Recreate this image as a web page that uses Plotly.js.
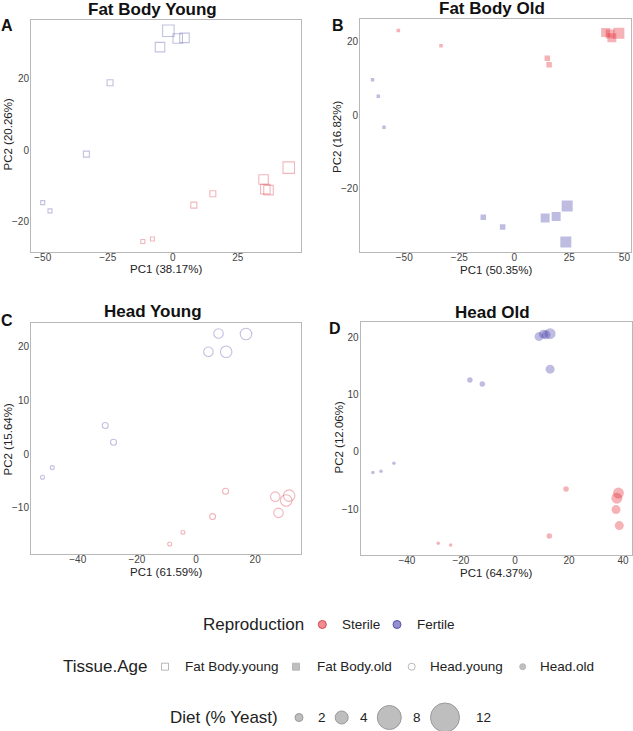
<!DOCTYPE html>
<html>
<head>
<meta charset="utf-8">
<script src="https://cdn.plot.ly/plotly-3.0.1.min.js"></script>
<style>html,body{margin:0;padding:0;background:#fff;}#chart{width:633px;height:731px;}</style>
</head>
<body>
<div id="chart"></div>
<script>
// ---------------- DATA ----------------
// Panel A: Fat Body Young
const fbyPC1   = [-1.7, 1.9, 4.5, -4.9, -24.1, -33.2, -50.0, -47.2, 44.6, 34.9, 35.6, 36.8, 15.4, 8.1, -7.8, -11.5];
const fbyPC2   = [33.5, 31.3, 31.5, 28.9, 18.9, -1.1, -14.7, -17.0, -4.9, -8.2, -10.9, -11.2, -12.2, -15.4, -24.9, -25.6];
const fbyRepro = ["Fertile","Fertile","Fertile","Fertile","Fertile","Fertile","Fertile","Fertile","Sterile","Sterile","Sterile","Sterile","Sterile","Sterile","Sterile","Sterile"];
const fbyDiet  = [12, 8, 8, 8, 4, 4, 2, 2, 12, 8, 8, 8, 4, 4, 2, 2];

// Panel B: Fat Body Old
const fboPC1   = [-52.7, -33.3, 15.0, 15.8, 41.5, 44.3, 43.5, 47.5, -64.4, -61.8, -59.2, -14.1, -5.3, 14.0, 19.0, 24.0, 23.4];
const fboPC2   = [23.0, 18.8, 15.4, 13.7, 22.4, 21.0, 22.0, 22.2, 9.6, 5.1, -3.3, -27.8, -30.4, -28.0, -27.6, -24.7, -34.5];
const fboRepro = ["Sterile","Sterile","Sterile","Sterile","Sterile","Sterile","Sterile","Sterile","Fertile","Fertile","Fertile","Fertile","Fertile","Fertile","Fertile","Fertile","Fertile"];
const fboDiet  = [2, 2, 4, 4, 8, 8, 8, 12, 2, 2, 2, 4, 4, 8, 8, 12, 12];

// Panel C: Head Young
const hyPC1   = [16.9, 7.6, 4.2, 10.2, -30.7, -27.9, -48.6, -51.9, 31.5, 30.5, 26.8, 27.9, 10.0, 5.6, -4.4, -8.9];
const hyPC2   = [22.3, 22.4, 19.0, 19.0, 5.3, 2.2, -2.5, -4.3, -7.7, -8.6, -7.9, -10.9, -6.9, -11.6, -14.5, -16.7];
const hyRepro = ["Fertile","Fertile","Fertile","Fertile","Fertile","Fertile","Fertile","Fertile","Sterile","Sterile","Sterile","Sterile","Sterile","Sterile","Sterile","Sterile"];
const hyDiet  = [12, 8, 8, 12, 4, 4, 2, 2, 12, 12, 8, 8, 4, 4, 2, 2];

// Panel D: Head Old
const hoPC1   = [13.0, 10.5, 8.9, 11.5, 13.0, -16.7, -12.1, -44.8, -49.6, -52.6, 38.3, 37.7, 37.4, 38.6, 18.9, 12.7, -28.4, -23.8];
const hoPC2   = [20.7, 20.6, 20.2, 20.5, 14.5, 12.6, 11.9, -2.0, -3.4, -3.6, -7.2, -8.1, -10.1, -12.9, -6.5, -14.7, -16.0, -16.3];
const hoRepro = ["Fertile","Fertile","Fertile","Fertile","Fertile","Fertile","Fertile","Fertile","Fertile","Fertile","Sterile","Sterile","Sterile","Sterile","Sterile","Sterile","Sterile","Sterile"];
const hoDiet  = [12, 8, 8, 8, 8, 4, 4, 2, 2, 2, 12, 12, 8, 8, 4, 4, 2, 2];

const panelTitles = ["Fat Body Young", "Fat Body Old", "Head Young", "Head Old"];
const panelLetters = ["A", "B", "C", "D"];
const pc1Labels = ["PC1 (38.17%)", "PC1 (50.35%)", "PC1 (61.59%)", "PC1 (64.37%)"];
const pc2Labels = ["PC2 (20.26%)", "PC2 (16.82%)", "PC2 (15.64%)", "PC2 (12.06%)"];
const reproLevels = ["Sterile", "Fertile"];
const tissueLevels = ["Fat Body.young", "Fat Body.old", "Head.young", "Head.old"];
const dietLevels = [2, 4, 8, 12];

// ---------------- STYLE ----------------
const W = 633, H = 731;
const FONT = "Liberation Sans, Arial, Helvetica, sans-serif";
const fillCol = {Sterile: "rgba(226,36,48,0.5)", Fertile: "rgba(72,62,168,0.5)"};
const lineCol = {Sterile: "rgba(222,80,92,0.6)", Fertile: "rgba(110,104,180,0.6)"};
const sizeMap = {2: 3.5, 4: 5.5, 8: 9, 12: 11};

const px = x => x / W;
const py = y => 1 - y / H;

const panels = [
  {pc1: fbyPC1, pc2: fbyPC2, repro: fbyRepro, diet: fbyDiet, symbol: "square-open", open: true, xa: "x", ya: "y"},
  {pc1: fboPC1, pc2: fboPC2, repro: fboRepro, diet: fboDiet, symbol: "square", open: false, xa: "x2", ya: "y2"},
  {pc1: hyPC1, pc2: hyPC2, repro: hyRepro, diet: hyDiet, symbol: "circle-open", open: true, xa: "x3", ya: "y3"},
  {pc1: hoPC1, pc2: hoPC2, repro: hoRepro, diet: hoDiet, symbol: "circle", open: false, xa: "x4", ya: "y4"}
];

const traces = [];
panels.forEach(p => {
  reproLevels.forEach(r => {
    const idx = p.repro.map((v, i) => v === r ? i : -1).filter(i => i >= 0);
    traces.push({
      type: "scatter", mode: "markers", xaxis: p.xa, yaxis: p.ya, showlegend: false, hoverinfo: "skip",
      x: idx.map(i => p.pc1[i]), y: idx.map(i => p.pc2[i]),
      marker: {
        symbol: p.symbol,
        size: idx.map(i => sizeMap[p.diet[i]] + (p.open ? 0.5 : 0)),
        color: p.open ? lineCol[r] : fillCol[r],
        line: p.open ? {width: 1.1, color: lineCol[r]} : {width: 0}
      }
    });
  });
});

// ---------------- LEGEND (drawn on a hidden pixel-coordinate axis) ----------------
const legRow1Y = 624.5, legRow2Y = 666.7, legRow3Y = 717.5;
traces.push({
  type: "scatter", mode: "markers", xaxis: "x5", yaxis: "y5", showlegend: false, hoverinfo: "skip",
  x: [322.3, 397], y: [legRow1Y, legRow1Y],
  marker: {symbol: "circle", size: 8, color: ["rgba(240,120,128,0.85)", "rgba(130,122,200,0.85)"],
           line: {width: 1, color: ["rgb(210,70,80)", "rgb(90,82,165)"]}}
});
traces.push({
  type: "scatter", mode: "markers", xaxis: "x5", yaxis: "y5", showlegend: false, hoverinfo: "skip",
  x: [165, 296, 411.7, 522.7], y: [legRow2Y, legRow2Y, legRow2Y, legRow2Y],
  marker: {symbol: ["square-open", "square", "circle-open", "circle"], size: [7, 7, 7, 6],
           color: ["#9a9a9a", "#a5a5a5", "#9a9a9a", "#a5a5a5"], line: {width: 1, color: "#9a9a9a"}}
});
const dietX = [299, 341.7, 389.3, 445];
traces.push({
  type: "scatter", mode: "markers", xaxis: "x5", yaxis: "y5", showlegend: false, hoverinfo: "skip",
  x: dietX, y: dietX.map(() => legRow3Y),
  marker: {symbol: "circle", size: [8, 13, 24, 29], color: "#a3a3a3", line: {width: 1, color: "#6f6f6f"}}
});

// ---------------- LAYOUT ----------------
const axBase = {
  showline: true, mirror: true, linecolor: "#b8b8b8", linewidth: 1,
  showgrid: false, zeroline: false, ticks: "",
  tickfont: {family: FONT, size: 10, color: "#444"}, fixedrange: true
};
const xBase = Object.assign({}, axBase, {ticklabelstandoff: -4});
const yBase = Object.assign({}, axBase, {ticklabelstandoff: -1});
const layout = {
  width: W, height: H, margin: {l: 0, r: 0, t: 0, b: 0},
  paper_bgcolor: "#fff", plot_bgcolor: "#fff", showlegend: false,
  font: {family: FONT},
  xaxis:  Object.assign({}, xBase, {domain: [px(31), px(301)], range: [-54.5, 49.3], tickvals: [-50, -25, 0, 25], anchor: "y"}),
  yaxis:  Object.assign({}, yBase, {domain: [py(251.5), py(20)], range: [-28.4, 36.5], tickvals: [-20, 0, 20], anchor: "x"}),
  xaxis2: Object.assign({}, xBase, {domain: [px(360), px(631)], range: [-70.1, 53], tickvals: [-50, -25, 0, 25, 50], anchor: "y2"}),
  yaxis2: Object.assign({}, yBase, {domain: [py(252.3), py(19)], range: [-37.3, 26.1], tickvals: [-20, 0, 20], anchor: "x2"}),
  xaxis3: Object.assign({}, xBase, {domain: [px(31), px(301)], range: [-55.8, 35.5], tickvals: [-40, -20, 0, 20], anchor: "y3"}),
  yaxis3: Object.assign({}, yBase, {domain: [py(554.3), py(322.7)], range: [-18.6, 24.4], tickvals: [-10, 0, 10, 20], anchor: "x3"}),
  xaxis4: Object.assign({}, xBase, {domain: [px(360.7), px(631.7)], range: [-57.1, 43.2], tickvals: [-40, -20, 0, 20, 40], anchor: "y4"}),
  yaxis4: Object.assign({}, yBase, {domain: [py(555.3), py(322.3)], range: [-18.1, 22.7], tickvals: [-10, 0, 10, 20], anchor: "x4"}),
  xaxis5: {domain: [0, 1], range: [0, W], visible: false, fixedrange: true, anchor: "y5"},
  yaxis5: {domain: [0, py(610)], range: [H, 610], visible: false, fixedrange: true, anchor: "x5"},
  annotations: []
};

const titlePos = [[152.5, 10], [492, 8], [152.5, 311], [492.5, 312]];
const letterPos = [[7, 26], [338, 25], [7.5, 320], [335, 328]];
const xTitlePos = [[165.7, 269], [496, 269.5], [165.7, 571.5], [496, 573]];
const yTitlePos = [[7.5, 135], [337, 137], [7.5, 440], [338.5, 437]];
for (let k = 0; k < 4; k++) {
  layout.annotations.push({xref: "paper", yref: "paper", x: px(titlePos[k][0]), y: py(titlePos[k][1]), xanchor: "center", yanchor: "middle",
    text: "<b>" + panelTitles[k] + "</b>", showarrow: false, font: {family: FONT, size: 17, color: "#111"}});
  layout.annotations.push({xref: "paper", yref: "paper", x: px(letterPos[k][0]), y: py(letterPos[k][1]), xanchor: "center", yanchor: "middle",
    text: "<b>" + panelLetters[k] + "</b>", showarrow: false, font: {family: FONT, size: 16, color: "#111"}});
  layout.annotations.push({xref: "paper", yref: "paper", x: px(xTitlePos[k][0]), y: py(xTitlePos[k][1]), xanchor: "center", yanchor: "middle",
    text: pc1Labels[k], showarrow: false, font: {family: FONT, size: 11.5, color: "#222"}});
  layout.annotations.push({xref: "paper", yref: "paper", x: px(yTitlePos[k][0]), y: py(yTitlePos[k][1]), xanchor: "center", yanchor: "middle",
    text: pc2Labels[k], textangle: -90, showarrow: false, font: {family: FONT, size: 11.5, color: "#222"}});
}

function legText(x, y, t, size) {
  layout.annotations.push({xref: "x5", yref: "y5", x: x, y: y, xanchor: "left", yanchor: "middle",
    text: t, showarrow: false, font: {family: FONT, size: size, color: "#222"}});
}
legText(200.5, legRow1Y, "Reproduction", 17);
legText(339.5, legRow1Y, reproLevels[0], 13.5);
legText(414.5, legRow1Y, reproLevels[1], 13.5);
legText(60.5, legRow2Y, "Tissue.Age", 17);
const tissueTextX = [182.5, 314.5, 428, 538];
tissueLevels.forEach((t, i) => legText(tissueTextX[i], legRow2Y, t, 13.5));
legText(168, legRow3Y, "Diet (% Yeast)", 17);
const dietTextX = [315.5, 358, 410.5, 473.5];
dietLevels.forEach((d, i) => legText(dietTextX[i], legRow3Y, String(d), 13.5));

Plotly.newPlot("chart", traces, layout, {staticPlot: true, displayModeBar: false});
</script>
</body>
</html>
